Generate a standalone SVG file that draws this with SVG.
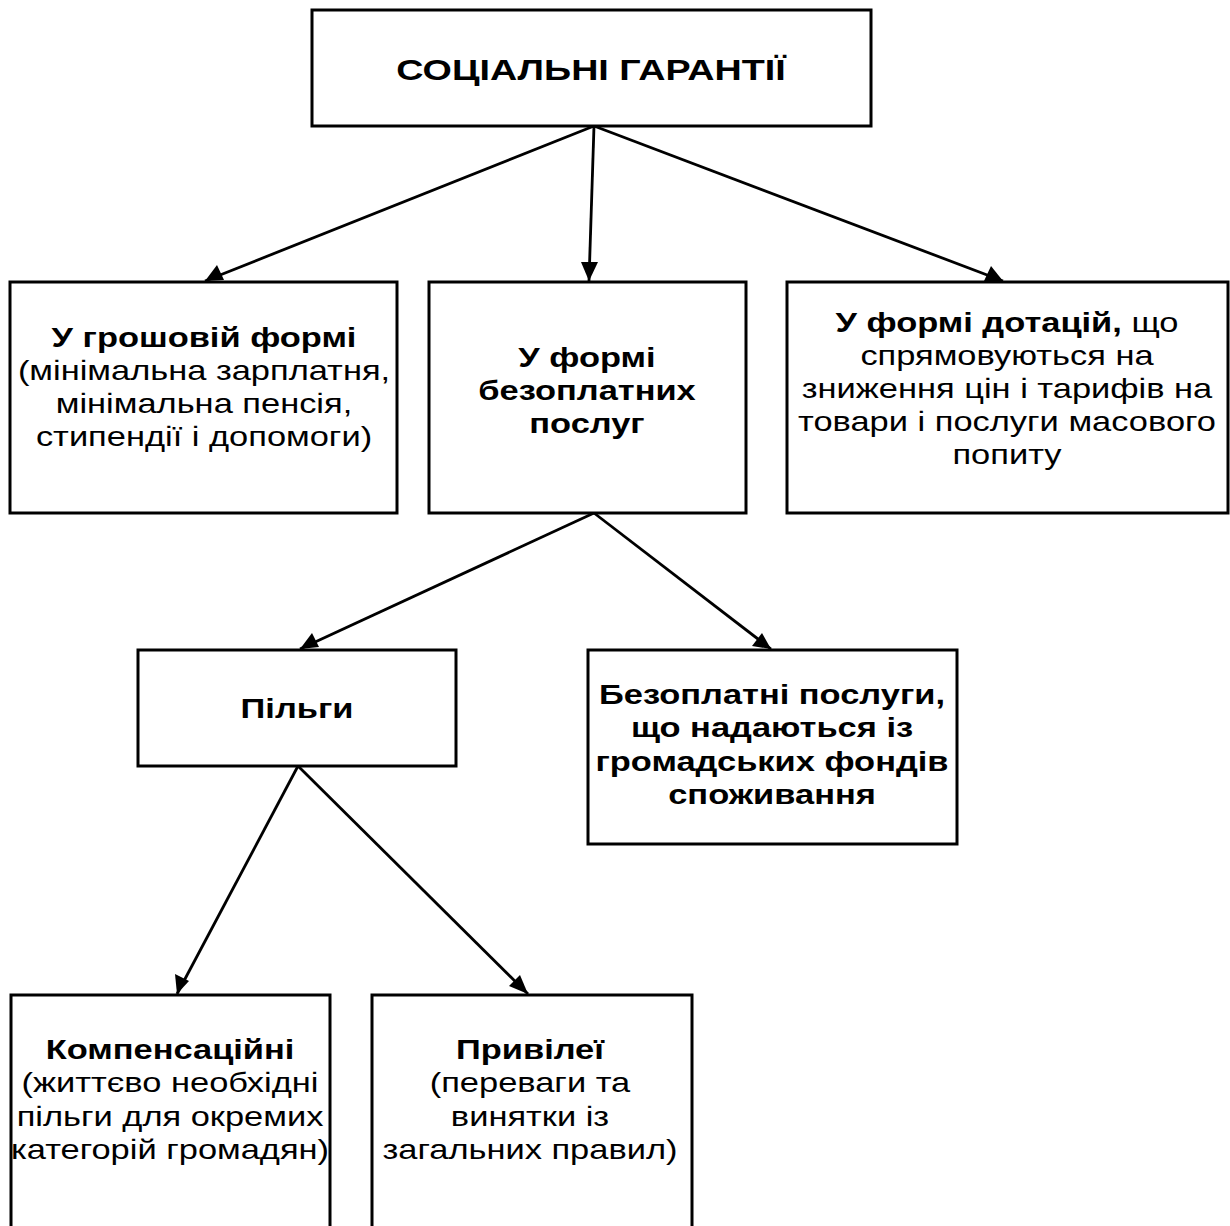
<svg xmlns="http://www.w3.org/2000/svg" width="1230" height="1226" viewBox="0 0 1230 1226">
<defs>
<style>
.box{fill:#fff;stroke:#000;stroke-width:3}
.t{font-family:"Liberation Sans",Arial,sans-serif;font-size:28px;fill:#000;text-anchor:middle}
.b{font-weight:bold}
.title{font-family:"Liberation Sans",Arial,sans-serif;font-size:29px;font-weight:bold;fill:#000;text-anchor:middle}
.c{fill:none;stroke:#000;stroke-width:2.8}
</style>
</defs>
<rect width="1230" height="1226" fill="#fff"/>
<g id="connectors">
<line class="c" x1="594" y1="126" x2="205" y2="281"/>
<line class="c" x1="594" y1="126" x2="589" y2="281"/>
<line class="c" x1="594" y1="126" x2="1003" y2="281"/>
<line class="c" x1="594" y1="513" x2="300" y2="649"/>
<line class="c" x1="594" y1="513" x2="771" y2="649"/>
<line class="c" x1="298" y1="766" x2="177" y2="994"/>
<line class="c" x1="298" y1="766" x2="528" y2="994"/>
<g fill="#000">
<polygon points="205,281 217,265 224,280"/>
<polygon points="589,281 581,262 598,262"/>
<polygon points="1003,281 984,281 991,266"/>
<polygon points="300,649 312,633 319,647"/>
<polygon points="771,649 752,646 762,633"/>
<polygon points="177,994 175,974 189,981"/>
<polygon points="528,994 509,986 520,975"/>
</g>
</g>
<g id="n-title">
<rect class="box" x="312" y="10" width="559" height="116"/>
<text class="title" transform="translate(591 0) scale(1.3 1)" x="0" y="80">СОЦІАЛЬНІ ГАРАНТІЇ</text>
</g>
<g id="n-money">
<rect class="box" x="10" y="282" width="387" height="231"/>
<text class="t" transform="translate(204 0) scale(1.23 1)" x="0" y="347"><tspan class="b">У грошовій формі</tspan><tspan x="0" dy="33">(мінімальна зарплатня,</tspan><tspan x="0" dy="33">мінімальна пенсія,</tspan><tspan x="0" dy="33">стипендії і допомоги)</tspan></text>
</g>
<g id="n-free">
<rect class="box" x="429" y="282" width="317" height="231"/>
<text class="t b" transform="translate(587 0) scale(1.23 1)" x="0" y="367">У формі<tspan x="0" dy="33">безоплатних</tspan><tspan x="0" dy="33">послуг</tspan></text>
</g>
<g id="n-subsidy">
<rect class="box" x="787" y="282" width="441" height="231"/>
<text class="t" transform="translate(1007 0) scale(1.23 1)" x="0" y="332"><tspan class="b">У формі дотацій,</tspan> що<tspan x="0" dy="33">спрямовуються на</tspan><tspan x="0" dy="33">зниження цін і тарифів на</tspan><tspan x="0" dy="33">товари і послуги масового</tspan><tspan x="0" dy="33">попиту</tspan></text>
</g>
<g id="n-pilgy">
<rect class="box" x="138" y="650" width="318" height="116"/>
<text class="t b" transform="translate(297 0) scale(1.23 1)" x="0" y="718">Пільги</text>
</g>
<g id="n-freeservices">
<rect class="box" x="588" y="650" width="369" height="194"/>
<text class="t b" transform="translate(772 0) scale(1.23 1)" x="0" y="704">Безоплатні послуги,<tspan x="0" dy="33.5">що надаються із</tspan><tspan x="0" dy="33.5">громадських фондів</tspan><tspan x="0" dy="33.5">споживання</tspan></text>
</g>
<g id="n-comp">
<rect class="box" x="11" y="995" width="319" height="260"/>
<text class="t" transform="translate(170 0) scale(1.23 1)" x="0" y="1059"><tspan class="b">Компенсаційні</tspan><tspan x="0" dy="33.5">(життєво необхідні</tspan><tspan x="0" dy="33.5">пільги для окремих</tspan><tspan x="0" dy="33.5">категорій громадян)</tspan></text>
</g>
<g id="n-priv">
<rect class="box" x="372" y="995" width="320" height="260"/>
<text class="t" transform="translate(530 0) scale(1.23 1)" x="0" y="1059"><tspan class="b">Привілеї</tspan><tspan x="0" dy="33.5">(переваги та</tspan><tspan x="0" dy="33.5">винятки із</tspan><tspan x="0" dy="33.5">загальних правил)</tspan></text>
</g>
</svg>
